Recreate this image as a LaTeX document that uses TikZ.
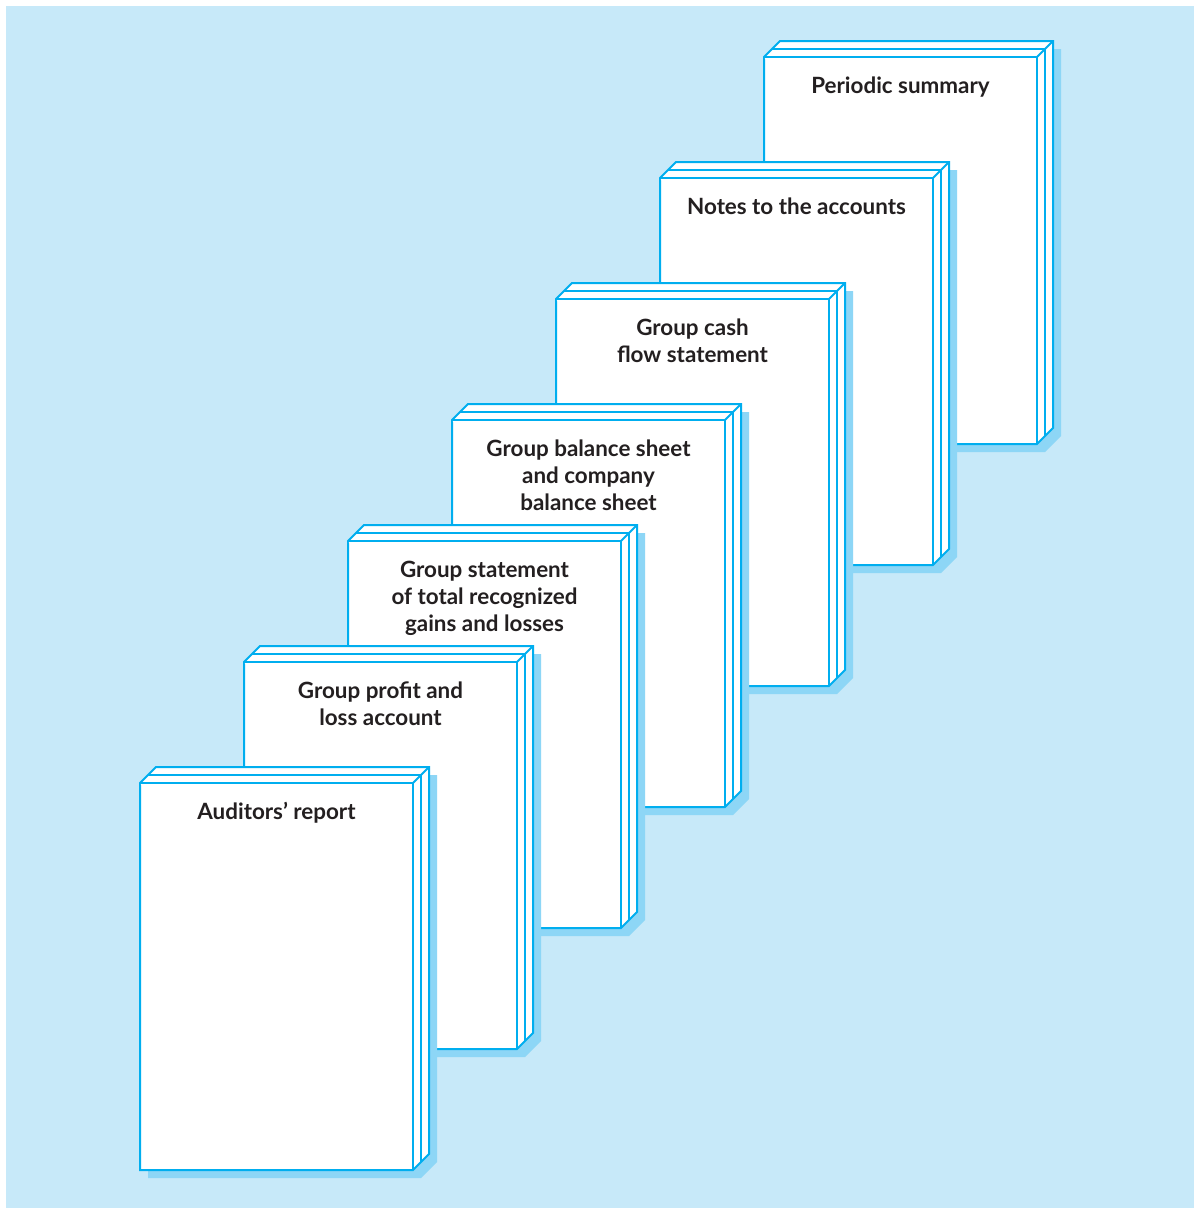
\documentclass[tikz,border=0pt]{standalone}
\usepackage{fontspec}
\setmainfont{Lato}
\definecolor{bgblue}{HTML}{C7E9F9}
\definecolor{shadowblue}{HTML}{8DD6F6}
\definecolor{edge}{HTML}{00AEEF}
\definecolor{ink}{HTML}{231F20}
% one document volume: front face at (#1,#2), label #3, node name #4
\newcommand\volume[4]{%
  \begin{scope}[shift={(#1,#2)}]
    \fill[shadowblue] (8,8) -- (24,-8) -- (297,-8) -- (297,379) -- (281,395) -- (8,395) -- cycle;
    \filldraw[outer] (0,0) -- (16,-16) -- (289,-16) -- (289,371) -- (273,387) -- (0,387) -- cycle;
    \draw[outer] (0,0) -- (273,0) -- (273,387);
    \draw[outer] (273,0) -- (289,-16);
    \draw[inner] (8,-8) -- (281,-8) -- (281,379);
    \node[label text] (#4) at (136.5,19.5) {#3};
  \end{scope}}
\begin{document}
\begin{tikzpicture}[x=1pt,y=-1pt,
  outer/.style={draw=edge,fill=white,line width=2pt,line join=miter},
  inner/.style={draw=edge,line width=1.4pt},
  label text/.style={anchor=north,inner sep=0pt,align=center,text=ink,
    font=\fontsize{22.4}{27}\selectfont\bfseries}]
  \useasboundingbox (0,0) rectangle (1198,1208);
  \fill[bgblue] (6,6) rectangle (1194,1208);
  \volume{764}{57}{Periodic summary}{periodic}
  \volume{660}{178}{Notes to the accounts}{notes}
  \volume{556}{299}{Group cash\\flow statement}{cashflow}
  \volume{452}{420}{Group balance sheet\\and company\\balance sheet}{balance}
  \volume{348}{541}{Group statement\\of total recognized\\gains and losses}{gains}
  \volume{244}{662}{Group profit and\\loss account}{profit}
  \volume{140}{783}{Auditors’ report}{auditors}
\end{tikzpicture}
\end{document}
